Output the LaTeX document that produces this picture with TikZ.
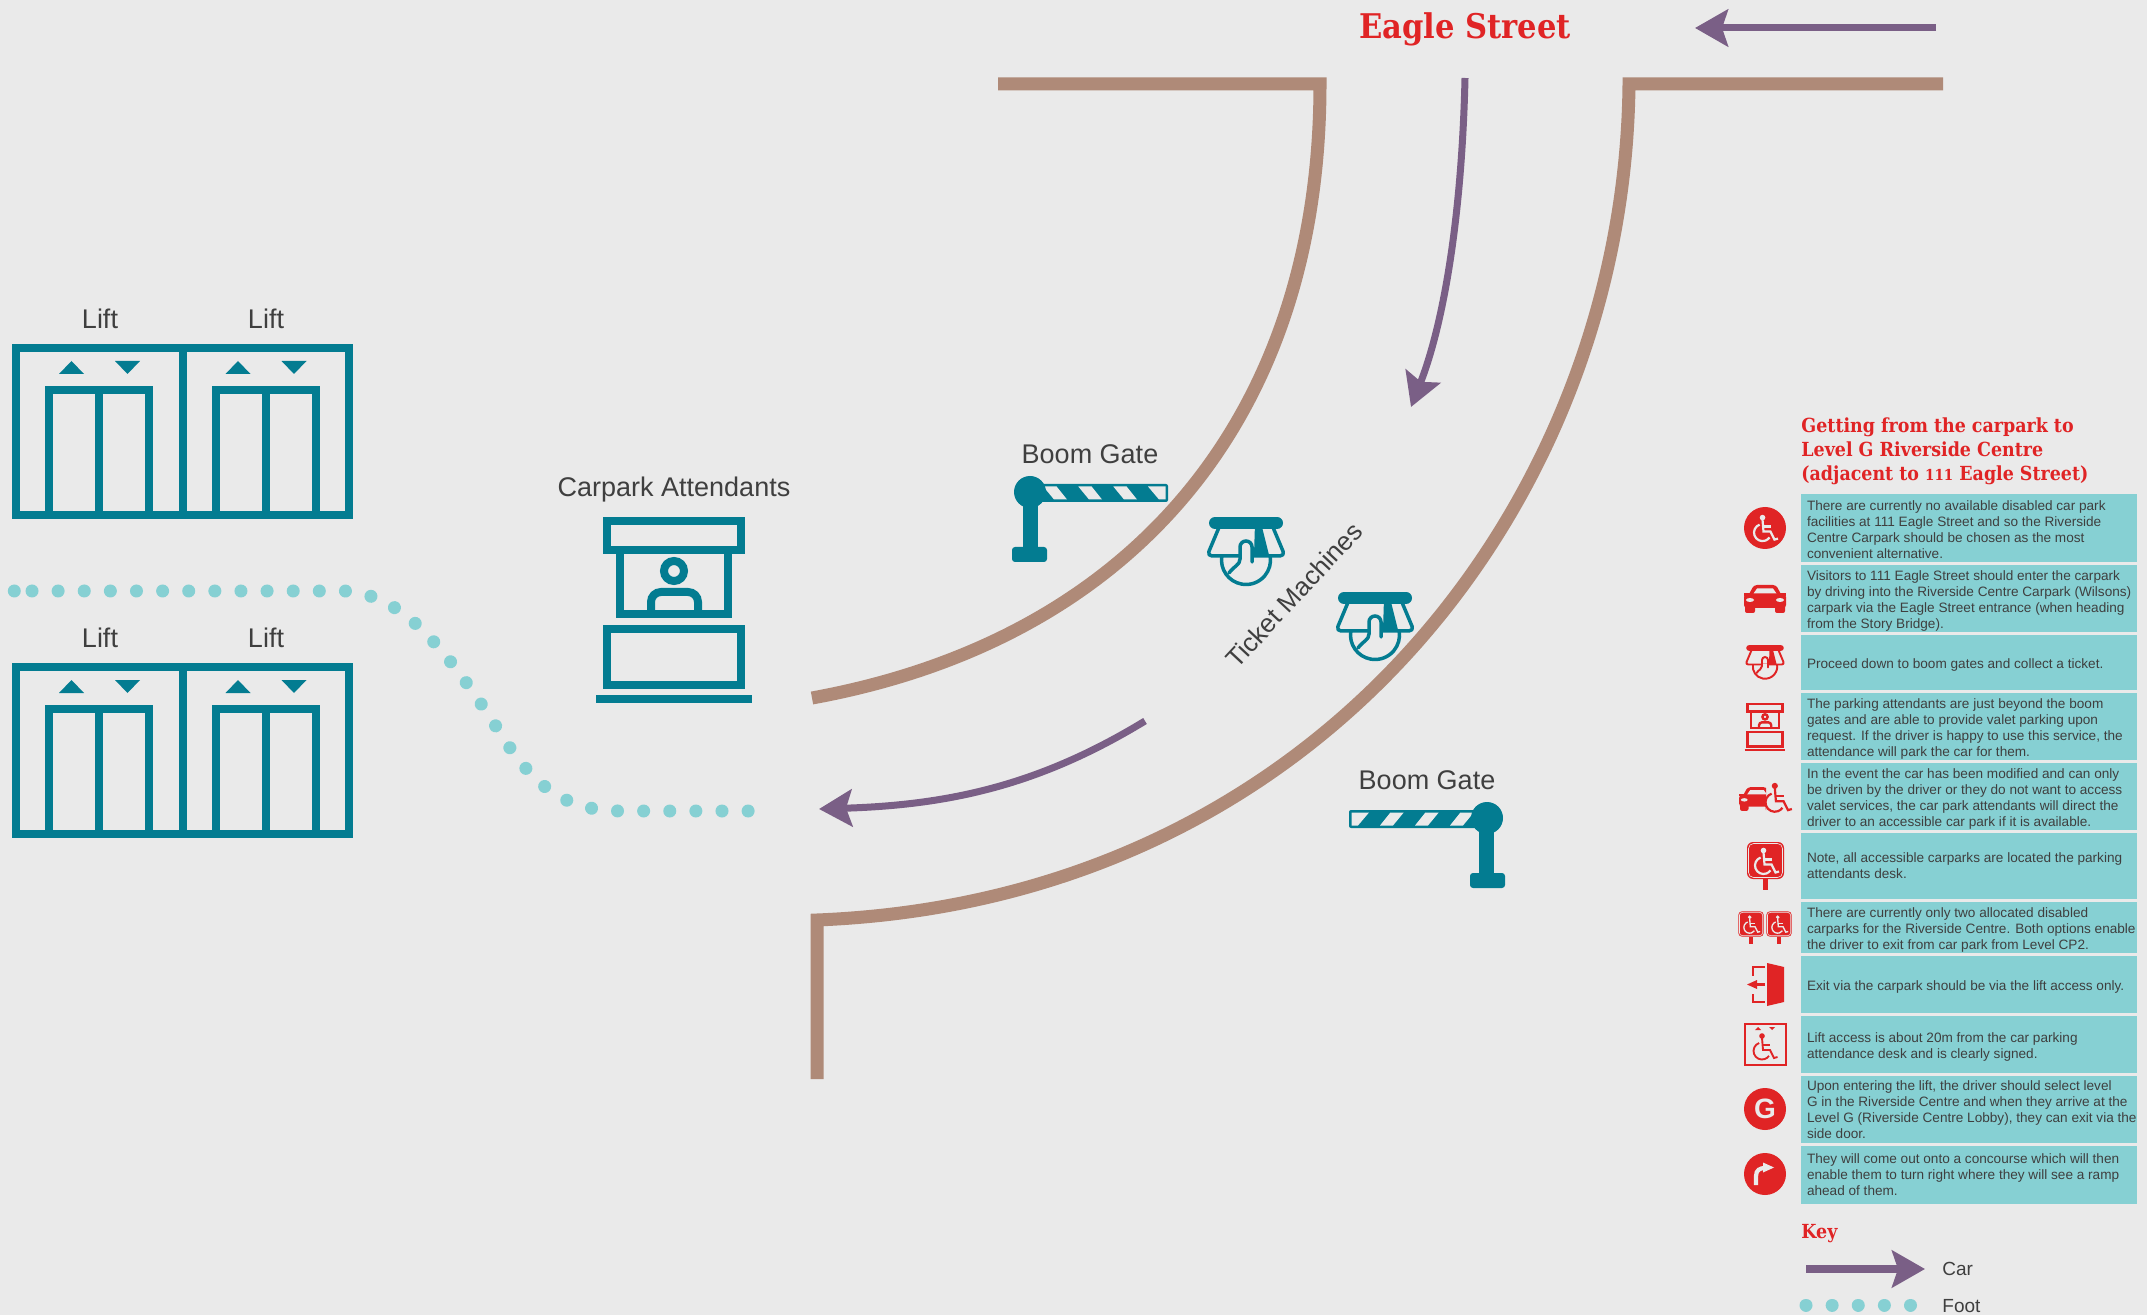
\documentclass[tikz,border=0pt]{standalone}
\usepackage{fontspec}
\setmainfont{Liberation Sans}
\newfontfamily\headfont{DejaVu Serif Condensed}
\usetikzlibrary{arrows.meta,positioning}

\definecolor{pagegrey}{HTML}{EAEAEA}
\definecolor{roadbrown}{HTML}{AF8A78}
\definecolor{carpurple}{HTML}{7A5F86}
\definecolor{footaqua}{HTML}{86D0D3}
\definecolor{iconteal}{HTML}{037C91}
\definecolor{iconred}{HTML}{E02425}
\definecolor{labelgrey}{HTML}{3F3F3F}

\tikzset{
    icon lw/.store in=\iconlw, icon lw=1,
    road/.style={draw=roadbrown,line width=6.5pt,miter limit=10},
    carline/.style={draw=carpurple,line width=3.5pt,-{Stealth[length=16.5pt,width=18.5pt,inset=3pt]}},
    footdots/.style={draw=footaqua,line width=6.5pt,line cap=round,dash pattern=on 0.01pt off 13.05pt},
    maplabel/.style={text=labelgrey,font=\fontsize{13.5}{16}\selectfont,inner sep=0pt},
    keylabel/.style={text=labelgrey,font=\fontsize{9.5}{11}\selectfont,inner sep=0pt,anchor=west},
    redhead/.style={text=iconred,font=\headfont\bfseries\fontsize{9.7}{12}\selectfont,inner sep=0pt,align=left},
    inforow/.style={fill=footaqua,minimum width=168pt,inner sep=0pt},
    infotext/.style={text=labelgrey,font=\fontsize{6.8}{8}\selectfont,inner sep=0pt,align=left},
    % one lift front
    liftbay/.pic={
        \draw[line width=4pt] (0,0) rectangle (166.5,167);
        \draw[line width=4pt] (33,167) -- (33,42) -- (133,42) -- (133,167);
        \draw[line width=4pt] (83,42) -- (83,167);
        \fill (43,26) -- (68,26) -- (55.5,13) -- cycle;
        \fill (99,13) -- (124,13) -- (111.5,26) -- cycle;
    },
    % attendants booth, origin in its middle
    boothicon/.pic={
        \begin{scope}[line width=\iconlw*4pt]
        \draw (-67,-89) rectangle (67,-60);
        \draw (-54,-60) -- (-54,4) -- (54,4) -- (54,-60);
        \draw (0,-39) circle (10);
        \draw[rounded corners=\iconlw*5pt] (-23,4) -- (-23,-18) -- (24,-18) -- (24,4);
        \draw (-67,19) rectangle (67,75);
        \draw (-78,89) -- (78,89);
        \end{scope}
    },
    % boom gate, origin in the pivot
    boomgate/.pic={
        \fill[rounded corners=1pt] (0,-8) rectangle (139,10);
        \foreach \n in {0,1,2}
            \fill[pagegrey] (14.3+35*\n,-5.5) -- (27.6+35*\n,-5.5) -- (38+35*\n,7.5) -- (25+35*\n,7.5) -- cycle;
        \fill[pagegrey] (119,-5.5) -- (136.5,-5.5) -- (136.5,7.5) -- (130,7.5) -- cycle;
        \fill (1,0) circle (16);
        \fill (-6,0) rectangle (9,60);
        \fill[rounded corners=1.5pt] (-17,55) rectangle (18,70);
    },
    % ticket machine, origin in the top bar
    ticketicon/.pic={
        \draw[line width=\iconlw*6pt,line cap=round] (-31,0) -- (31,0);
        \fill (9,0) -- (15,0) -- (23,32) -- (8,32) -- cycle;
        \draw[line width=\iconlw*1.75pt,rounded corners=\iconlw*2.5pt,line join=round]
            (-26,2) -- (-39,33) -- (39,33) -- (26,2);
        \draw[line width=\iconlw*1.75pt] (0,37) ++(190:24.5) arc[start angle=190,end angle=-10,radius=24.5];
        \fill[pagegrey] (-6,31) rectangle (6,36);
        \draw[line width=\iconlw*1.75pt,line cap=round]
            (-17,50) .. controls (-12,43) and (-6,42) .. (-6,36) -- (-6,24)
            arc[start angle=180,end angle=360,radius=6] -- (6,39);
    },
    % wheelchair figure, origin near its middle
    wheelchair/.pic={
        \fill (-2,-11) circle (2.8);
        \draw[line width=\iconlw*1.1pt] (-2,-9) -- (-1,3) -- (6,3) -- (10,11) -- (13.5,10);
        \draw[line width=\iconlw*1.1pt] (-2,-2) -- (6,-2);
        \draw[line width=\iconlw*1.1pt] (-2,4) ++(250:8.5) arc[start angle=250,end angle=35,radius=8.5];
    },
    % car seen from the front
    caricon/.pic={
        \fill[rounded corners=1.5pt] (-21,-5) rectangle (21,9);
        \fill[rounded corners=1.5pt] (-17,-3) -- (-11,-14) -- (11,-14) -- (17,-3) -- cycle;
        \fill (-21,-6) rectangle (-15,-3);
        \fill (15,-6) rectangle (21,-3);
        \fill[pagegrey] (-11.5,-5.5) -- (-8,-10.5) -- (8,-10.5) -- (11.5,-5.5) -- cycle;
        \fill[pagegrey] (-15,1) ellipse (4 and 2);
        \fill[pagegrey] (15,1) ellipse (4 and 2);
        \fill[rounded corners=1pt] (-20,6) rectangle (-10,14);
        \fill[rounded corners=1pt] (10,6) rectangle (20,14);
    },
    % parking sign, origin in the board
    parksign/.pic={
        \fill[rounded corners=\iconlw*3pt] (-18.5,-18.5) rectangle (18.5,18.5);
        \draw[pagegrey,line width=0.3pt,rounded corners=\iconlw*2.5pt] (-17,-17) rectangle (17,17);
        \fill (-2.5,18.5) rectangle (2.5,29);
    },
}

\begin{document}
\begin{tikzpicture}[x=0.5pt,y=-0.5pt]

    % Page
    \useasboundingbox (0,0) rectangle (2147,1315);
    \fill[pagegrey] (0,0) rectangle (2147,1315);

    % Road edges
    \coordinate (innerstart) at (998,84);
    \coordinate (innercorner) at (1320,84);
    \coordinate (innerend) at (812,698);
    \coordinate (outerstart) at (1943,84);
    \coordinate (outercorner) at (1629,84);
    \coordinate (outerbend) at (817,920);
    \coordinate (outerend) at (817,1079);
    \draw[road] (innerstart) -- (innercorner) .. controls (1320,420) and (1130,640) .. (innerend);
    \draw[road] (outerstart) -- (outercorner) .. controls (1625,500) and (1320,900) .. (outerbend) -- (outerend);

    % Car route
    \coordinate (streettail) at (1936,28);
    \coordinate (streettip) at (1695,28);
    \coordinate (ramptail) at (1465,78);
    \coordinate (ramptip) at (1411,407);
    \coordinate (exittail) at (1145,721);
    \coordinate (exittip) at (819,809);
    \draw[carline] (streettail) -- (streettip);
    \draw[carline] (ramptail) .. controls (1462,210) and (1445,320) .. (ramptip);
    \draw[carline] (exittail) .. controls (1040,785) and (950,805) .. (exittip);

    % Walking route
    \coordinate (footfirst) at (14.3,591);
    \coordinate (footstart) at (32,591);
    \coordinate (footbend) at (345,591);
    \coordinate (footmid) at (497,728);
    \coordinate (footflat) at (622,811);
    \coordinate (footend) at (755,811);
    \fill[footaqua] (footfirst) circle (6.5);
    \draw[footdots] (footstart) -- (footbend) .. controls (400,595) and (440,640) .. (footmid)
        .. controls (532,785) and (563,811) .. (footflat) -- (footend);

    % Lifts
    \pic[color=iconteal] at (16,348) {liftbay};
    \pic[color=iconteal] at (182.5,348) {liftbay};
    \pic[color=iconteal] at (16,667) {liftbay};
    \pic[color=iconteal] at (182.5,667) {liftbay};
    \node[maplabel] (lifta) at (100,319) {Lift};
    \node[maplabel] (liftb) at (266,319) {Lift};
    \node[maplabel] (liftc) at (100,638) {Lift};
    \node[maplabel] (liftd) at (266,638) {Lift};

    % Attendants
    \pic[color=iconteal] at (674,610) {boothicon};
    \node[maplabel] (attendants) at (674,490) {Carpark Attendants};

    % Boom gates
    \pic[color=iconteal] at (1029,492) {boomgate};
    \pic[color=iconteal,xscale=-1] at (1488,818) {boomgate};
    \node[maplabel] (gatea) at (1090,454) {Boom Gate};
    \node[maplabel] (gateb) at (1427,780) {Boom Gate};

    % Ticket machines
    \pic[color=iconteal] at (1246,523) {ticketicon};
    \pic[color=iconteal] at (1375,598) {ticketicon};
    \node[maplabel,rotate=47,font=\fontsize{13}{16}\selectfont] (machines) at (1294,595) {Ticket Machines};

    % Headings
    \node[redhead,font=\headfont\bfseries\fontsize{17}{20}\selectfont] (street) at (1465,29) {Eagle Street};
    \node[redhead,anchor=north west] (title) at (1801,417) {Getting from the carpark to\\Level G Riverside Centre\\(adjacent to {\fontsize{7.5}{12}\selectfont 111} Eagle Street)};

    % Instruction rows
    \node[inforow,minimum height=34pt] (rowa) at (1969,528) {};
    \node[infotext,right=3pt of rowa.west,yshift=-0.7pt] (texta) {There are currently no available disabled car park\\facilities at 111 Eagle Street and so the Riverside\\Centre Carpark should be chosen as the most\\convenient alternative.};
    \node[inforow,minimum height=33.5pt] (rowb) at (1969,598.5) {};
    \node[infotext,right=3pt of rowb.west,yshift=-1.3pt] (textb) {Visitors to 111 Eagle Street should enter the carpark\\by driving into the Riverside Centre Carpark (Wilsons)\\carpark via the Eagle Street entrance (when heading\\from the Story Bridge).};
    \node[inforow,minimum height=27.5pt] (rowc) at (1969,662.5) {};
    \node[infotext,right=3pt of rowc.west,yshift=-1.3pt] (textc) {Proceed down to boom gates and collect a ticket.};
    \node[inforow,minimum height=33.5pt] (rowd) at (1969,726.5) {};
    \node[infotext,right=3pt of rowd.west,yshift=-1.3pt] (textd) {The parking attendants are just beyond the boom\\gates and are able to provide valet parking upon\\request. If the driver is happy to use this service, the\\attendance will park the car for them.};
    \node[inforow,minimum height=33.5pt] (rowe) at (1969,796.5) {};
    \node[infotext,right=3pt of rowe.west,yshift=-1.3pt] (texte) {In the event the car has been modified and can only\\be driven by the driver or they do not want to access\\valet services, the car park attendants will direct the\\driver to an accessible car park if it is available.};
    \node[inforow,minimum height=33pt] (rowf) at (1969,866) {};
    \node[infotext,right=3pt of rowf.west] (textf) {Note, all accessible carparks are located the parking\\attendants desk.};
    \node[inforow,minimum height=25.5pt] (rowg) at (1969,927.5) {};
    \node[infotext,right=3pt of rowg.west,yshift=-1.3pt] (textg) {There are currently only two allocated disabled\\carparks for the Riverside Centre. Both options enable\\the driver to exit from car park from Level CP2.};
    \node[inforow,minimum height=28.5pt] (rowh) at (1969,984.5) {};
    \node[infotext,right=3pt of rowh.west,yshift=-1.3pt] (texth) {Exit via the carpark should be via the lift access only.};
    \node[inforow,minimum height=28.5pt] (rowi) at (1969,1044.5) {};
    \node[infotext,right=3pt of rowi.west,yshift=-1.3pt] (texti) {Lift access is about 20m from the car parking\\attendance desk and is clearly signed.};
    \node[inforow,minimum height=33.5pt] (rowj) at (1969,1109.5) {};
    \node[infotext,right=3pt of rowj.west] (textj) {Upon entering the lift, the driver should select level\\G in the Riverside Centre and when they arrive at the\\Level G (Riverside Centre Lobby), they can exit via the\\side door.};
    \node[inforow,minimum height=29pt] (rowk) at (1969,1175) {};
    \node[infotext,right=3pt of rowk.west] (textk) {They will come out onto a concourse which will then\\enable them to turn right where they will see a ramp\\ahead of them.};

    % Row icons
    \fill[iconred] (1765,528) circle (21);
    \pic[color=pagegrey] at (1764.5,528.6) {wheelchair};

    \pic[color=iconred] at (1765,599) {caricon};

    \pic[color=iconred,scale=0.5,icon lw=0.55] at (1765,648) {ticketicon};

    \pic[color=iconred,scale=0.26,icon lw=0.3] at (1765,727) {boothicon};

    \begin{scope}
        \clip (1735,780) rectangle (1766,815);
        \pic[color=iconred,scale=0.85] at (1757,799) {caricon};
    \end{scope}
    \pic[color=iconred,scale=1.1] at (1777,798) {wheelchair};

    \pic[color=iconred] at (1765.5,860.5) {parksign};
    \pic[color=pagegrey] at (1765.5,861.5) {wheelchair};

    \pic[color=iconred,scale=0.68,icon lw=0.55] at (1751,924) {parksign};
    \pic[color=iconred,scale=0.68,icon lw=0.55] at (1779,924) {parksign};
    \pic[color=pagegrey,scale=0.68,icon lw=0.6] at (1751,924.7) {wheelchair};
    \pic[color=pagegrey,scale=0.68,icon lw=0.6] at (1779,924.7) {wheelchair};

    % exit door
    \fill[iconred] (1767,963) -- (1784,967) -- (1784,1002) -- (1767,1006) -- cycle;
    \draw[iconred,line width=1.4pt] (1765,967) -- (1753,967) -- (1753,976);
    \draw[iconred,line width=1.4pt] (1753,994) -- (1753,1002) -- (1765,1002);
    \draw[iconred,line width=1.4pt] (1755,984.5) -- (1765,984.5);
    \fill[iconred] (1747,984.5) -- (1757,980) -- (1757,989) -- cycle;

    % lift access
    \draw[iconred,line width=1pt] (1745,1024) rectangle (1786,1065);
    \fill[iconred] (1755,1030) -- (1761,1030) -- (1758,1027) -- cycle;
    \fill[iconred] (1769,1027) -- (1775,1027) -- (1772,1030) -- cycle;
    \pic[color=iconred,icon lw=0.85] at (1764,1047) {wheelchair};

    \node[circle,fill=iconred,minimum size=21pt,inner sep=0pt,text=pagegrey,font=\bfseries\fontsize{14}{14}\selectfont] (levelg) at (1765,1109) {G};

    % turn right
    \fill[iconred] (1765,1174) circle (21);
    \draw[pagegrey,line width=2.1pt] (-9+1765,11+1174) -- (-9+1765,2+1174) .. controls (-9+1765,-4+1174) and (-5+1765,-6+1174) .. (0+1765,-6+1174);
    \fill[pagegrey] (9+1765,-6.5+1174) -- (-2+1765,-11.5+1174) -- (-2+1765,-1.5+1174) -- cycle;

    % Key
    \node[redhead,anchor=west] (keyhead) at (1801,1234) {Key};
    \coordinate (keytail) at (1806,1269);
    \coordinate (keytip) at (1925,1269);
    \draw[carline,line width=4pt] (keytail) -- (keytip);
    \node[keylabel] (keycar) at (1942,1269) {Car};
    \coordinate (keyfoota) at (1806,1305);
    \coordinate (keyfootb) at (1915,1305);
    \draw[footdots] (keyfoota) -- (keyfootb);
    \node[keylabel] (keyfoot) at (1942,1306) {Foot};

\end{tikzpicture}
\end{document}
